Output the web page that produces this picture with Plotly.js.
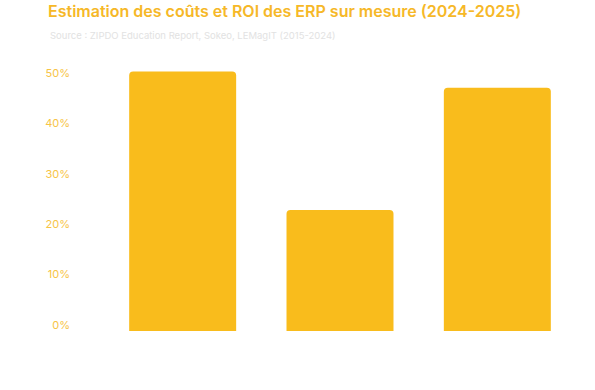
<!DOCTYPE html>
<html><head><meta charset="utf-8">
<script src="https://cdn.plot.ly/plotly-3.0.1.min.js"></script>
<style>html,body{margin:0;padding:0;background:#fff}#chart{width:595px;height:390px}</style>
</head><body><div id="chart"></div>
<script>
const categories = ["A", "B", "C"];
const values = [51.5, 24, 48.3];
const tickVals = [0, 10, 20, 30, 40, 50];
const tickText = ["0%", "10%", "20%", "30%", "40%", "50%"];
const titleText = "Estimation des coûts et ROI des ERP sur mesure (2024-2025)";
const subtitleText = "Source : ZIPDO Education Report, Sokeo, LEMagIT (2015-2024)";

const data = [{
  type: "bar",
  x: categories,
  y: values,
  marker: {color: "#F9BC1C", cornerradius: 4},
  hoverinfo: "none"
}];
const layout = {
  width: 595, height: 390,
  margin: {l: 104, r: 19, t: 59, b: 59},
  paper_bgcolor: "#fff", plot_bgcolor: "#fff",
  font: {family: "Inter, sans-serif"},
  bargap: 0.32,
  showlegend: false,
  title: {
    text: titleText,
    xref: "container", yref: "container",
    x: 48/595, xanchor: "left", y: 1 - 11.5/390, yanchor: "middle",
    font: {size: 16, weight: 600, color: "#F6B828"}
  },
  annotations: [{
    text: subtitleText, xref: "paper", yref: "paper",
    x: (48-104)/472, xanchor: "left", y: 1 + (59-35.5)/272, yanchor: "middle",
    showarrow: false, font: {size: 9.5, color: "#E2E2E2"}
  }],
  xaxis: {showticklabels: false, showgrid: false, zeroline: false, showline: false, ticks: ""},
  yaxis: {
    range: [0, 54], tickvals: tickVals, ticktext: tickText,
    showgrid: false, zeroline: false, showline: false, ticks: "",
    ticklabelstandoff: 33, ticklabelshift: -6,
    tickfont: {size: 11, color: "#F7C445"}
  }
};
Plotly.newPlot("chart", data, layout, {displayModeBar: false, staticPlot: true});
</script></body></html>
